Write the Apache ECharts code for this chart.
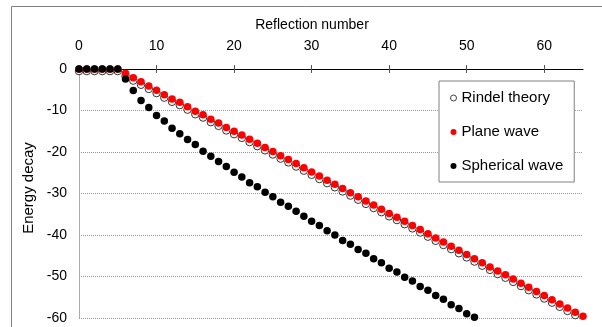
<!DOCTYPE html>
<html>
<head>
<meta charset="utf-8">
<script src="https://cdn.jsdelivr.net/npm/echarts@6/dist/echarts.min.js"></script>
<style>
html,body{margin:0;padding:0;background:#fff;}
#chart{width:602px;height:327px;}
</style>
</head>
<body>
<div id="chart"></div>
<script>
var seriesNames = ['Rindel theory', 'Plane wave', 'Spherical wave'];
var reflections = [0,1,2,3,4,5,6,7,8,9,10,11,12,13,14,15,16,17,18,19,20,21,22,23,24,25,26,27,28,29,30,31,32,33,34,35,36,37,38,39,40,41,42,43,44,45,46,47,48,49,50,51,52,53,54,55,56,57,58,59,60,61,62,63,64,65];
var plane = [0,0,0,0,0,0,-1.0,-2.1,-3.1,-4.1,-5.1,-6.2,-7.2,-8.0,-9.1,-10.2,-11.0,-12.1,-13.0,-14.1,-15.0,-15.9,-16.9,-17.9,-18.9,-19.9,-20.9,-21.8,-22.8,-23.8,-24.8,-25.8,-26.8,-27.8,-28.8,-29.8,-30.8,-31.8,-32.8,-33.8,-34.8,-35.7,-36.7,-37.7,-38.7,-39.7,-40.7,-41.7,-42.7,-43.7,-44.7,-45.7,-46.7,-47.7,-48.7,-49.6,-50.6,-51.6,-52.6,-53.6,-54.6,-55.6,-56.6,-57.6,-58.6,-59.6];
var rindel = [-0.5,-0.5,-0.5,-0.5,-0.5,-0.5,-1.7,-2.8,-3.8,-4.8,-5.8,-6.9,-7.9,-8.7,-9.8,-10.9,-11.7,-12.8,-13.7,-14.8,-15.7,-16.6,-17.6,-18.6,-19.6,-20.6,-21.6,-22.5,-23.5,-24.5,-25.5,-26.5,-27.5,-28.5,-29.5,-30.5,-31.5,-32.5,-33.5,-34.5,-35.5,-36.4,-37.4,-38.4,-39.4,-40.4,-41.4,-42.4,-43.4,-44.4,-45.4,-46.4,-47.4,-48.4,-49.4,-50.3,-51.3,-52.3,-53.3,-54.3,-55.3,-56.3,-57.3,-58.3,-59.3];
var spherical = [0,0,0,0,0,0,-2.4,-5.2,-7.6,-9.3,-11.2,-12.5,-14.3,-15.6,-17.0,-18.2,-19.8,-21.0,-22.3,-23.5,-24.9,-26.0,-27.4,-28.4,-29.7,-30.8,-32.1,-33.1,-34.3,-35.5,-36.7,-37.7,-39.0,-40.0,-41.3,-42.2,-43.5,-44.4,-45.7,-46.7,-48.0,-48.9,-50.2,-51.1,-52.4,-53.3,-54.6,-55.5,-56.8,-57.7,-59.0,-59.8];
var xTicks = [0,10,20,30,40,50,60];
var yTicks = [0,-10,-20,-30,-40,-50,-60];
var xTitle = 'Reflection number';
var yTitle = 'Energy decay';

function pairs(vals){ return vals.map(function(v,i){ return [reflections[i], v]; }); }

var FONT = '"Liberation Sans", Arial, sans-serif';
var chart = echarts.init(document.getElementById('chart'), null, {renderer:'canvas'});
var xBase = {
  type:'value', position:'top', min:0, max:65, interval:10, gridIndex:0,
  splitLine:{show:false}
};
var option = {
  animation:false,
  backgroundColor:'#ffffff',
  grid:{left:79, right:19, top:69, bottom:9, containLabel:false},
  xAxis:[
    Object.assign({}, xBase, {
      axisLine:{show:true, lineStyle:{color:'#000000', width:1}},
      axisTick:{show:true, inside:true, length:4, lineStyle:{color:'#555555'}, customValues:xTicks},
      axisLabel:{show:true, color:'#000000', fontSize:14, fontFamily:FONT, margin:16, customValues:xTicks}
    }),
    Object.assign({}, xBase, {
      axisLine:{show:false},
      axisTick:{show:true, inside:false, length:4, lineStyle:{color:'#555555'}, customValues:xTicks},
      axisLabel:{show:false}
    })
  ],
  yAxis:[
    {type:'value', position:'left', min:-60, max:0, interval:10,
     axisLine:{show:true, lineStyle:{color:'#888888', width:1}},
     axisTick:{show:false},
     axisLabel:{color:'#000000', fontSize:14, fontFamily:FONT, margin:12, customValues:yTicks},
     splitLine:{show:true, lineStyle:{color:'#999999', type:[1,1], width:1}}
    },
    {type:'value', position:'right', min:-60, max:0, interval:10,
     axisLine:{show:true, lineStyle:{color:'#aaaaaa', width:1}},
     axisTick:{show:false}, axisLabel:{show:false}, splitLine:{show:false}
    }
  ],
  legend:{
    orient:'vertical', left:439, top:81, width:136,
    backgroundColor:'#ffffff', borderColor:'#808080', borderWidth:1,
    padding:[9,11,8,11], itemGap:18, itemWidth:6, itemHeight:6,
    textStyle:{color:'#000000', fontSize:15, fontFamily:FONT, lineHeight:16},
    data:[
      {name:seriesNames[0], icon:'circle', itemStyle:{color:'#ffffff', borderColor:'#404040', borderWidth:1, opacity:1}},
      {name:seriesNames[1], icon:'circle', itemStyle:{color:'#ff0000', opacity:1}},
      {name:seriesNames[2], icon:'circle', itemStyle:{color:'#000000', opacity:1}}
    ]
  },
  graphic:[
    {type:'polyline', shape:{points:[[11.5,327],[11.5,6.5],[602,6.5]]}, style:{stroke:'#808080', lineWidth:1, fill:null}, silent:true},
    {type:'text', x:312, y:25, style:{text:xTitle, font:'14px ' + FONT, fill:'#000000', textAlign:'center', textVerticalAlign:'middle'}},
    {type:'text', x:29, y:188, rotation:Math.PI/2, style:{text:yTitle, font:'15px ' + FONT, fill:'#000000', textAlign:'center', textVerticalAlign:'middle'}}
  ],
  series:[
    {name:seriesNames[0], type:'scatter', xAxisIndex:0, yAxisIndex:0, symbol:'circle', symbolSize:7.5,
     itemStyle:{color:'#ffffff', borderColor:'#333333', borderWidth:1, opacity:1}, data:pairs(rindel), z:2},
    {name:seriesNames[1], type:'scatter', xAxisIndex:0, yAxisIndex:0, symbol:'circle', symbolSize:7.5,
     itemStyle:{color:'#ff0000', opacity:1}, data:pairs(plane), z:3},
    {name:seriesNames[2], type:'scatter', xAxisIndex:0, yAxisIndex:0, symbol:'circle', symbolSize:7.5,
     itemStyle:{color:'#000000', opacity:1}, data:pairs(spherical), z:4}
  ]
};
chart.setOption(option);
</script>
</body>
</html>
